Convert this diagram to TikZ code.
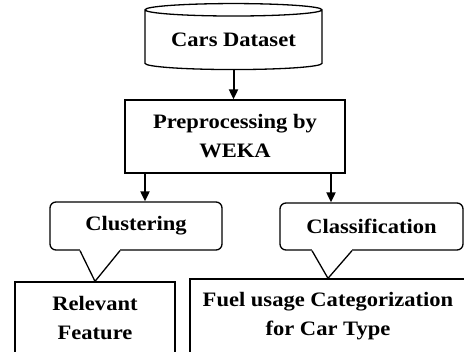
\documentclass[tikz,border=0pt]{standalone}
\usepackage{fontspec}
\setmainfont{Liberation Serif}[FakeStretch=1.1]
\usetikzlibrary{shapes.geometric,arrows.meta}
\tikzset{
  txt/.style={font=\fontsize{20.5}{29}\selectfont\bfseries, align=center},
  box/.style={draw, line width=1.3pt, txt, inner sep=0pt},
  db/.style={cylinder, shape border rotate=90, aspect=0.1, draw, line width=1.3pt,
    txt, minimum width=177pt, minimum height=66pt, inner sep=0pt},
  bubble/.style={draw, line width=1.3pt, rounded corners=6pt, txt, inner sep=0pt},
  tip/.style={line width=1.3pt, line join=miter},
  flow/.style={-{Triangle[length=10pt,width=9pt]}, line width=2pt}
}
\begin{document}
\begin{tikzpicture}[x=1pt,y=-1pt]
  \useasboundingbox (0,0) rectangle (464,352);
  \clip (0,0) rectangle (464,352);
  \fill[white] (0,0) rectangle (464,352);
  \node[db] (cars) at (233.5,40) {Cars Dataset};
  \node[box, minimum width=220pt, minimum height=73pt] (weka) at (235,136.5) {Preprocessing by\\WEKA};
  \node[box, minimum width=160pt, minimum height=72pt] (rel) at (95,318) {Relevant\\Feature};
  \node[box, minimum width=276pt, minimum height=74pt] (fuel) at (328,316) {Fuel usage Categorization\\for Car Type};
  \node[bubble, minimum width=172pt, minimum height=48pt] (clu) at (136,226) {Clustering};
  \node[bubble, minimum width=183pt, minimum height=47pt] (cls) at (371.5,226.5) {Classification};
  % callout tips
  \coordinate (clua) at (clu.south -| 80,0);
  \coordinate (club) at (clu.south -| 120,0);
  \coordinate (clsa) at (cls.south -| 312,0);
  \coordinate (clsb) at (cls.south -| 352,0);
  \fill[white] ([yshift=1.5pt]clua) rectangle ([yshift=-1.5pt]club);
  \fill[white] ([yshift=1.5pt]clsa) rectangle ([yshift=-1.5pt]clsb);
  \draw[tip] (clua) -- (rel.north) -- (club);
  \draw[tip] (clsa) -- (fuel.north) -- (clsb);
  % arrows
  \draw[flow] (cars.south) -- (cars.south |- weka.north);
  \coordinate (wl) at (145,173);
  \coordinate (wr) at (331,173);
  \draw[flow] (wl) -- (wl |- clu.north);
  \draw[flow] (wr) -- (wr |- cls.north);
\end{tikzpicture}
\end{document}
